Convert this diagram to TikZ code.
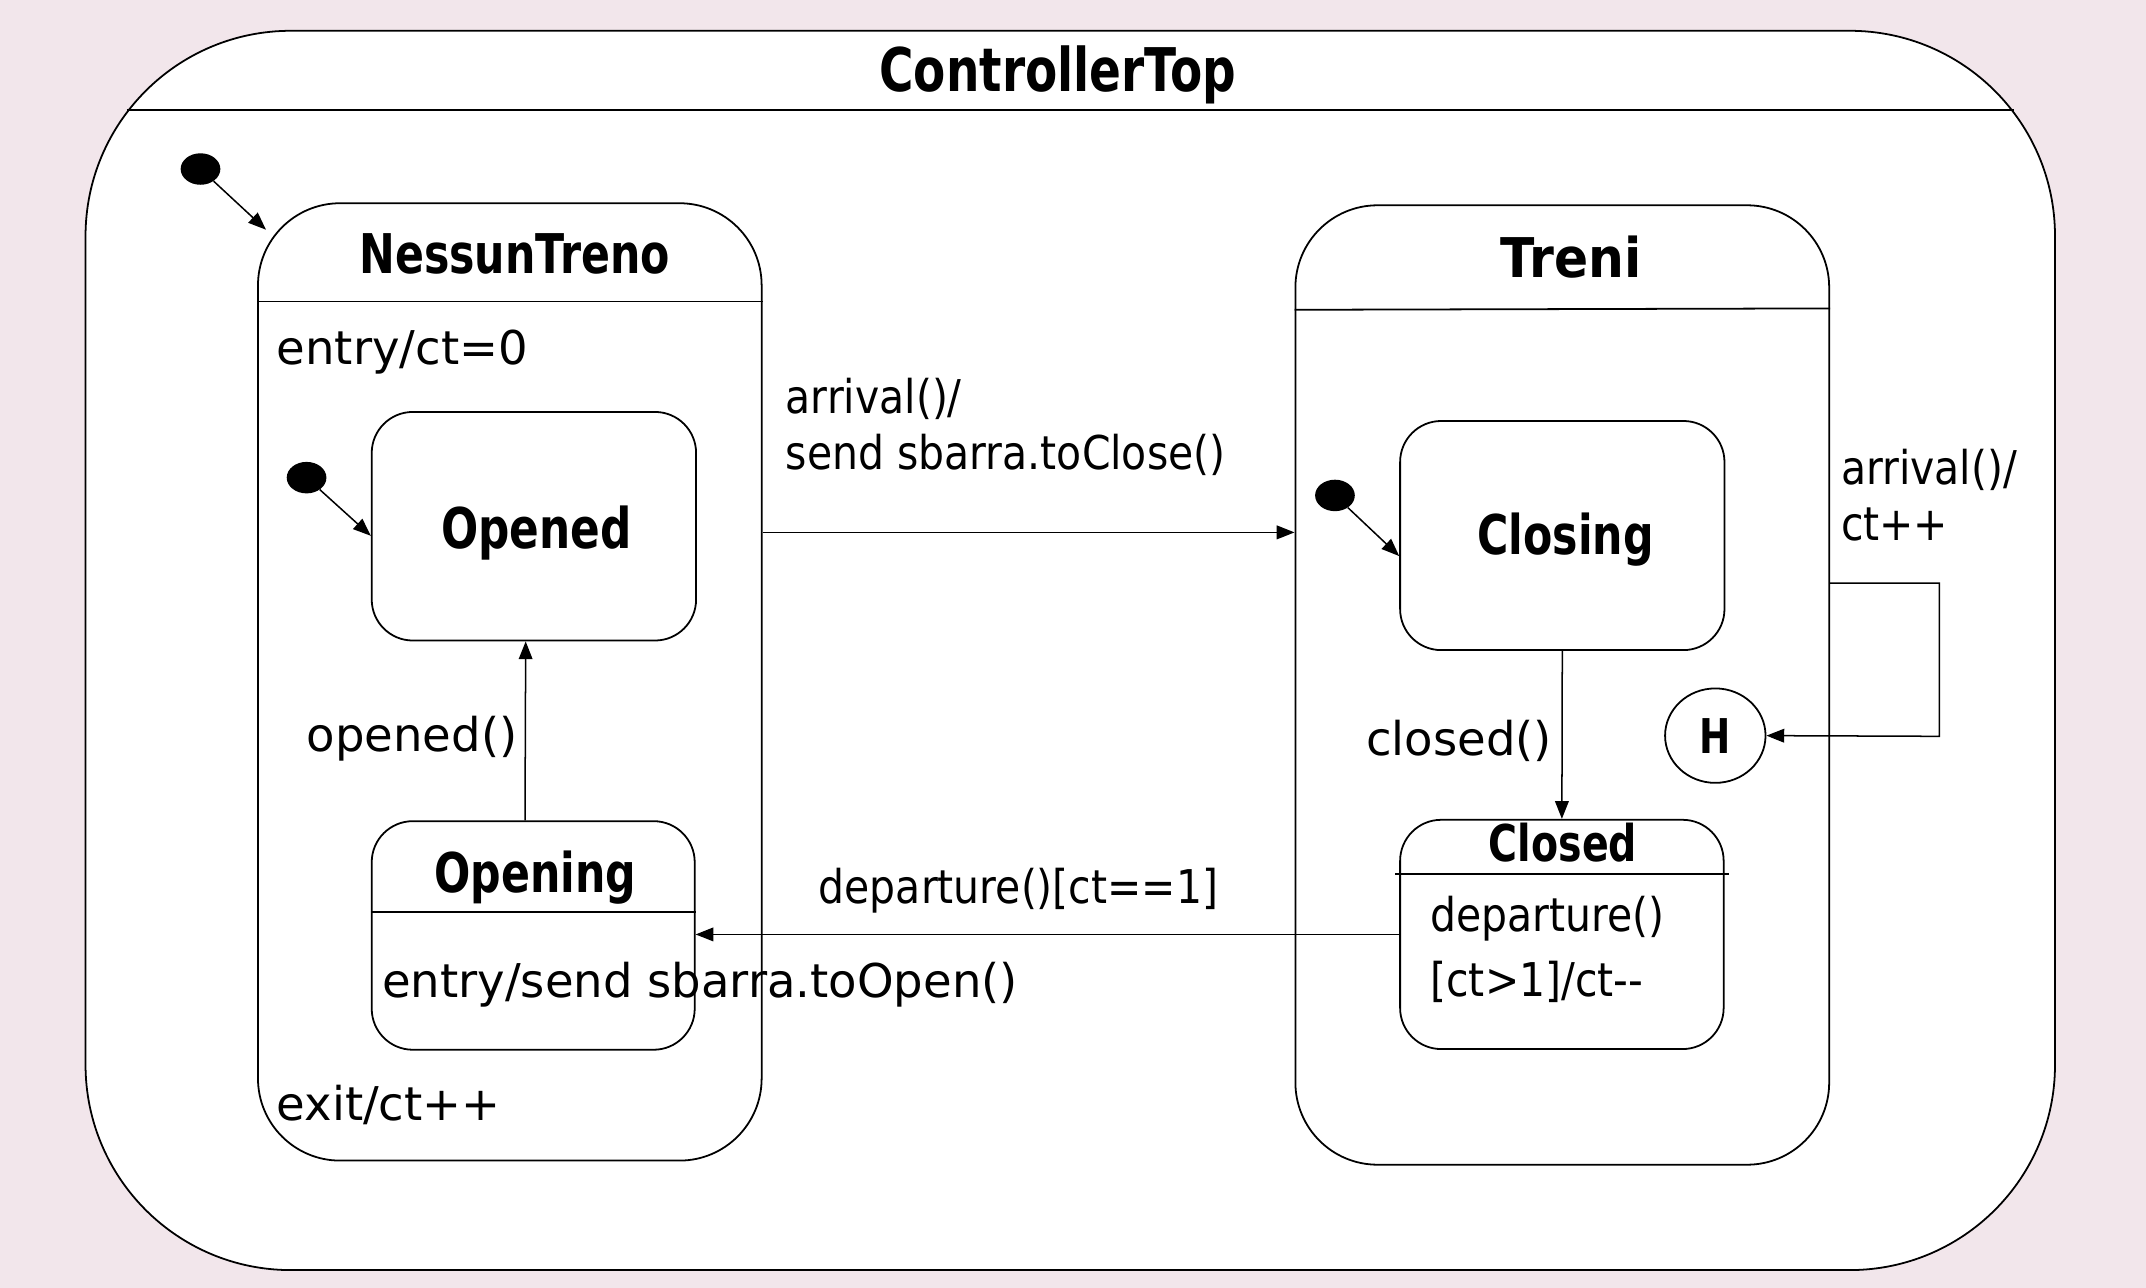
\documentclass[tikz,border=0pt]{standalone}
\usepackage{fontspec}
\setmainfont{DejaVu Sans}
\newfontfamily\condfont[FakeStretch=0.88]{DejaVu Sans}
\newfontfamily\titlefont[FakeStretch=0.78]{DejaVu Sans}
\newfontfamily\widetitlefont[FakeStretch=0.92]{DejaVu Sans}
\usetikzlibrary{arrows.meta, shapes.geometric}
\definecolor{bgpink}{RGB}{242,230,235}

\begin{document}
\begin{tikzpicture}[x=1pt, y=-1pt,
    state/.style={draw, line width=1.3pt, inner sep=0pt},
    initdot/.style={ellipse, fill=black, minimum width=29pt, minimum height=23pt, inner sep=0pt},
    trans/.style={line width=1.1pt, -{Triangle[length=13pt, width=10pt]}},
    sep/.style={line width=1.3pt},
    title/.style={inner sep=0pt, anchor=base, font=\titlefont\bfseries\fontsize{40}{48}\selectfont},
    txt/.style={inner sep=0pt, anchor=base west, font=\fontsize{34}{41}\selectfont},
    ctxt/.style={inner sep=0pt, anchor=base west, font=\condfont\fontsize{34}{41}\selectfont}]
    % Background
    \fill[bgpink] (0,0) rectangle (1568,941);
    \useasboundingbox (0,0) rectangle (1568,941);

    % Top state
    \node[state, fill=white, rounded corners=150pt, minimum width=1439pt, minimum height=905.5pt] (top) at (782,475.25) {};
    \draw[sep] ([shift={(30.8pt,-58.5pt)}]top.north west) -- ([shift={(-30.8pt,-58.5pt)}]top.north east);
    \node[title, font=\titlefont\bfseries\fontsize{44}{52}\selectfont] (topT) at (773,67) {ControllerTop};

    % NessunTreno
    \node[state, rounded corners=60pt, minimum width=368pt, minimum height=699.5pt] (NT) at (372.5,498.25) {};
    \draw[sep] ([yshift=-72.5pt]NT.north west) -- ([yshift=-72.5pt]NT.north east);
    \node[title, font=\titlefont\bfseries\fontsize{40}{48}\selectfont] (NTt) at (376,200) {NessunTreno};
    \node[txt] (NTentry) at (202,266) {entry/ct=0};
    \node[txt] (NTexit) at (202,819) {exit/ct++};

    \node[state, rounded corners=30pt, minimum width=237pt, minimum height=167pt] (Opd) at (390.1,384.5) {};
    \node[title, font=\titlefont\bfseries\fontsize{41}{49}\selectfont] (Opdt) at (392,401) {Opened};

    \node[state, rounded corners=30pt, minimum width=236pt, minimum height=167pt] (Opg) at (389.6,683.5) {};
    \draw[sep] ([yshift=-67pt]Opg.north west) -- ([yshift=-67pt]Opg.north east);
    \node[title] (Opgt) at (391,652) {Opening};
    \node[txt] (OpgEntry) at (279,729) {entry/send sbarra.toOpen()};

    % Treni
    \node[state, rounded corners=60pt, minimum width=390pt, minimum height=701pt] (Tr) at (1141.5,500.5) {};
    \draw[sep] ([yshift=-77pt]Tr.north west) -- ([yshift=-76pt]Tr.north east);
    \node[title, font=\widetitlefont\bfseries\fontsize{40}{48}\selectfont] (Trt) at (1148,203) {Treni};

    \node[state, rounded corners=30pt, minimum width=237pt, minimum height=167.4pt] (Clg) at (1141.5,391.3) {};
    \node[title] (Clgt) at (1144,405) {Closing};

    \node[state, rounded corners=30pt, minimum width=236.4pt, minimum height=167.5pt] (Cld) at (1141.2,682.75) {};
    \draw[sep] ([shift={(-3pt,-40.2pt)}]Cld.north west) -- ([shift={(3pt,-40.2pt)}]Cld.north east);
    \node[title, font=\titlefont\bfseries\fontsize{37}{44}\selectfont] (Cldt) at (1142,629.6) {Closed};
    \node[ctxt, align=left, anchor=north west] (CldTxt) at (1045,654.8) {departure()\\[6pt][ct>1]/ct--};

    \node[state, ellipse, minimum width=73.4pt, minimum height=69pt, font=\titlefont\bfseries\fontsize{35}{42}\selectfont] (H) at (1253.3,537.5) {H};

    % Initial states
    \foreach \n/\p in {dot0/{(146.5,123.5)}, dot1/{(224,349)}, dot2/{(975.4,362)}}
    {
        \node[initdot] (\n) at \p {};
    }

    % Transitions
    \draw[trans] (dot0) -- ([shift={(6.5pt,-20pt)}]NT.north west);
    \draw[trans] (dot1) -- ([yshift=-7pt]Opd.west);
    \draw[trans] (dot2) -- ([yshift=-15pt]Clg.west);
    \draw[trans] (NT.east |- 0,389) -- (Tr.west |- 0,389);
    \draw[trans] ([xshift=-6pt]Opg.north) -- ([xshift=-6pt]Opd.south);
    \draw[trans] (Clg.south) -- (Cld.north);
    \draw[trans] (Cld.west) -- (Cld.west -| Opg.east);
    \coordinate (loopR) at (1417,538);
    \draw[trans] (Tr.east |- 0,426) -| (loopR) -- (H.east);

    % Labels
    \node[ctxt, align=left, anchor=north west] (lbArr) at (574,276) {arrival()/\\send sbarra.toClose()};
    \node[ctxt] (lbDep) at (598,660) {departure()[ct==1]};
    \node[txt] (lbOpd) at (224,549) {opened()};
    \node[txt] (lbCld) at (998,552) {closed()};
    \node[ctxt, align=left, anchor=north west] (lbLoop) at (1345,328.2) {arrival()/\\ct++};
\end{tikzpicture}
\end{document}
